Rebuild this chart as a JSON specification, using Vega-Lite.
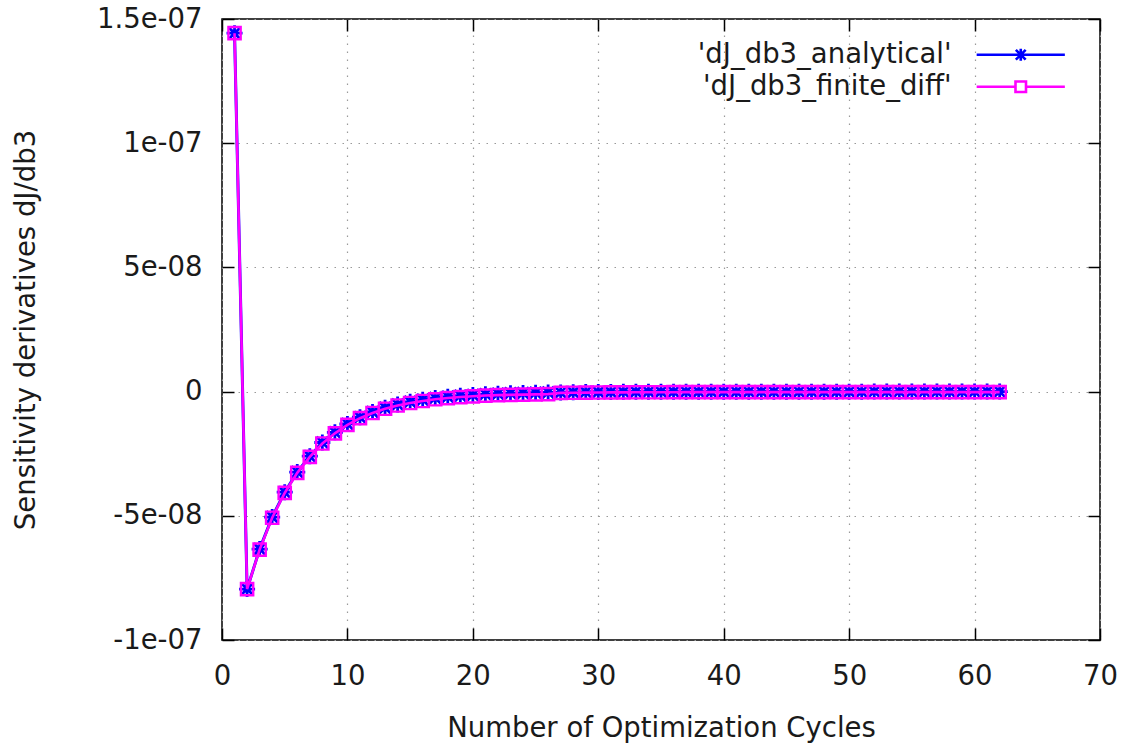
{
  "$schema": "https://vega.github.io/schema/vega-lite/v6.json",
  "width": 878,
  "height": 621,
  "autosize": {"type": "none"},
  "padding": {"left": 222, "top": 19, "right": 29, "bottom": 107},
  "background": "white",
  "config": {
    "view": {"stroke": "#000", "strokeWidth": 1.5},
    "font": "DejaVu Sans",
    "legend": {"padding": 0}
  },
  "datasets": {
    "d": [
      {"series": "'dJ_db3_analytical'", "x": 1, "y": 1.443e-07},
      {"series": "'dJ_db3_analytical'", "x": 2, "y": -7.95e-08},
      {"series": "'dJ_db3_analytical'", "x": 3, "y": -6.34e-08},
      {"series": "'dJ_db3_analytical'", "x": 4, "y": -5.05e-08},
      {"series": "'dJ_db3_analytical'", "x": 5, "y": -4.05e-08},
      {"series": "'dJ_db3_analytical'", "x": 6, "y": -3.24e-08},
      {"series": "'dJ_db3_analytical'", "x": 7, "y": -2.60e-08},
      {"series": "'dJ_db3_analytical'", "x": 8, "y": -2.05e-08},
      {"series": "'dJ_db3_analytical'", "x": 9, "y": -1.64e-08},
      {"series": "'dJ_db3_analytical'", "x": 10, "y": -1.30e-08},
      {"series": "'dJ_db3_analytical'", "x": 11, "y": -1.03e-08},
      {"series": "'dJ_db3_analytical'", "x": 12, "y": -8.2e-09},
      {"series": "'dJ_db3_analytical'", "x": 13, "y": -6.5e-09},
      {"series": "'dJ_db3_analytical'", "x": 14, "y": -5.2e-09},
      {"series": "'dJ_db3_analytical'", "x": 15, "y": -4.1e-09},
      {"series": "'dJ_db3_analytical'", "x": 16, "y": -3.3e-09},
      {"series": "'dJ_db3_analytical'", "x": 17, "y": -2.6e-09},
      {"series": "'dJ_db3_analytical'", "x": 18, "y": -2.1e-09},
      {"series": "'dJ_db3_analytical'", "x": 19, "y": -1.7e-09},
      {"series": "'dJ_db3_analytical'", "x": 20, "y": -1.35e-09},
      {"series": "'dJ_db3_analytical'", "x": 21, "y": -1.1e-09},
      {"series": "'dJ_db3_analytical'", "x": 22, "y": -9e-10},
      {"series": "'dJ_db3_analytical'", "x": 23, "y": -7e-10},
      {"series": "'dJ_db3_analytical'", "x": 24, "y": -6e-10},
      {"series": "'dJ_db3_analytical'", "x": 25, "y": -5e-10},
      {"series": "'dJ_db3_analytical'", "x": 26, "y": -4e-10},
      {"series": "'dJ_db3_analytical'", "x": 27, "y": -3.2e-10},
      {"series": "'dJ_db3_analytical'", "x": 28, "y": -2.6e-10},
      {"series": "'dJ_db3_analytical'", "x": 29, "y": -2.1e-10},
      {"series": "'dJ_db3_analytical'", "x": 30, "y": -1.7e-10},
      {"series": "'dJ_db3_analytical'", "x": 31, "y": -1.4e-10},
      {"series": "'dJ_db3_analytical'", "x": 32, "y": -1.1e-10},
      {"series": "'dJ_db3_analytical'", "x": 33, "y": -9e-11},
      {"series": "'dJ_db3_analytical'", "x": 34, "y": -7e-11},
      {"series": "'dJ_db3_analytical'", "x": 35, "y": -6e-11},
      {"series": "'dJ_db3_analytical'", "x": 36, "y": -5e-11},
      {"series": "'dJ_db3_analytical'", "x": 37, "y": -4e-11},
      {"series": "'dJ_db3_analytical'", "x": 38, "y": -3.5e-11},
      {"series": "'dJ_db3_analytical'", "x": 39, "y": -3e-11},
      {"series": "'dJ_db3_analytical'", "x": 40, "y": -2.6e-11},
      {"series": "'dJ_db3_analytical'", "x": 41, "y": -2.3e-11},
      {"series": "'dJ_db3_analytical'", "x": 42, "y": -2e-11},
      {"series": "'dJ_db3_analytical'", "x": 43, "y": -1.8e-11},
      {"series": "'dJ_db3_analytical'", "x": 44, "y": -1.6e-11},
      {"series": "'dJ_db3_analytical'", "x": 45, "y": -1.5e-11},
      {"series": "'dJ_db3_analytical'", "x": 46, "y": -1.4e-11},
      {"series": "'dJ_db3_analytical'", "x": 47, "y": -1.3e-11},
      {"series": "'dJ_db3_analytical'", "x": 48, "y": -1.2e-11},
      {"series": "'dJ_db3_analytical'", "x": 49, "y": -1.2e-11},
      {"series": "'dJ_db3_analytical'", "x": 50, "y": -1.1e-11},
      {"series": "'dJ_db3_analytical'", "x": 51, "y": -1.1e-11},
      {"series": "'dJ_db3_analytical'", "x": 52, "y": -1e-11},
      {"series": "'dJ_db3_analytical'", "x": 53, "y": -1e-11},
      {"series": "'dJ_db3_analytical'", "x": 54, "y": -1e-11},
      {"series": "'dJ_db3_analytical'", "x": 55, "y": -1e-11},
      {"series": "'dJ_db3_analytical'", "x": 56, "y": -1e-11},
      {"series": "'dJ_db3_analytical'", "x": 57, "y": -1e-11},
      {"series": "'dJ_db3_analytical'", "x": 58, "y": -1e-11},
      {"series": "'dJ_db3_analytical'", "x": 59, "y": -1e-11},
      {"series": "'dJ_db3_analytical'", "x": 60, "y": -1e-11},
      {"series": "'dJ_db3_analytical'", "x": 61, "y": -1e-11},
      {"series": "'dJ_db3_analytical'", "x": 62, "y": -1e-11},
      {"series": "'dJ_db3_finite_diff'", "x": 1, "y": 1.443e-07},
      {"series": "'dJ_db3_finite_diff'", "x": 2, "y": -7.95e-08},
      {"series": "'dJ_db3_finite_diff'", "x": 3, "y": -6.36e-08},
      {"series": "'dJ_db3_finite_diff'", "x": 4, "y": -5.08e-08},
      {"series": "'dJ_db3_finite_diff'", "x": 5, "y": -4.08e-08},
      {"series": "'dJ_db3_finite_diff'", "x": 6, "y": -3.27e-08},
      {"series": "'dJ_db3_finite_diff'", "x": 7, "y": -2.63e-08},
      {"series": "'dJ_db3_finite_diff'", "x": 8, "y": -2.09e-08},
      {"series": "'dJ_db3_finite_diff'", "x": 9, "y": -1.68e-08},
      {"series": "'dJ_db3_finite_diff'", "x": 10, "y": -1.34e-08},
      {"series": "'dJ_db3_finite_diff'", "x": 11, "y": -1.07e-08},
      {"series": "'dJ_db3_finite_diff'", "x": 12, "y": -8.6e-09},
      {"series": "'dJ_db3_finite_diff'", "x": 13, "y": -6.9e-09},
      {"series": "'dJ_db3_finite_diff'", "x": 14, "y": -5.6e-09},
      {"series": "'dJ_db3_finite_diff'", "x": 15, "y": -4.6e-09},
      {"series": "'dJ_db3_finite_diff'", "x": 16, "y": -3.8e-09},
      {"series": "'dJ_db3_finite_diff'", "x": 17, "y": -3.1e-09},
      {"series": "'dJ_db3_finite_diff'", "x": 18, "y": -2.6e-09},
      {"series": "'dJ_db3_finite_diff'", "x": 19, "y": -2.2e-09},
      {"series": "'dJ_db3_finite_diff'", "x": 20, "y": -1.9e-09},
      {"series": "'dJ_db3_finite_diff'", "x": 21, "y": -1.6e-09},
      {"series": "'dJ_db3_finite_diff'", "x": 22, "y": -1.4e-09},
      {"series": "'dJ_db3_finite_diff'", "x": 23, "y": -1.3e-09},
      {"series": "'dJ_db3_finite_diff'", "x": 24, "y": -1.2e-09},
      {"series": "'dJ_db3_finite_diff'", "x": 25, "y": -1.1e-09},
      {"series": "'dJ_db3_finite_diff'", "x": 26, "y": -1.0e-09},
      {"series": "'dJ_db3_finite_diff'", "x": 27, "y": -5e-10},
      {"series": "'dJ_db3_finite_diff'", "x": 28, "y": -4.5e-10},
      {"series": "'dJ_db3_finite_diff'", "x": 29, "y": -4e-10},
      {"series": "'dJ_db3_finite_diff'", "x": 30, "y": -3.6e-10},
      {"series": "'dJ_db3_finite_diff'", "x": 31, "y": -3.3e-10},
      {"series": "'dJ_db3_finite_diff'", "x": 32, "y": -3e-10},
      {"series": "'dJ_db3_finite_diff'", "x": 33, "y": -2.8e-10},
      {"series": "'dJ_db3_finite_diff'", "x": 34, "y": -2.6e-10},
      {"series": "'dJ_db3_finite_diff'", "x": 35, "y": -2.5e-10},
      {"series": "'dJ_db3_finite_diff'", "x": 36, "y": -2.4e-10},
      {"series": "'dJ_db3_finite_diff'", "x": 37, "y": -2.3e-10},
      {"series": "'dJ_db3_finite_diff'", "x": 38, "y": -2.3e-10},
      {"series": "'dJ_db3_finite_diff'", "x": 39, "y": -2.2e-10},
      {"series": "'dJ_db3_finite_diff'", "x": 40, "y": -2.2e-10},
      {"series": "'dJ_db3_finite_diff'", "x": 41, "y": -2.1e-10},
      {"series": "'dJ_db3_finite_diff'", "x": 42, "y": -2.1e-10},
      {"series": "'dJ_db3_finite_diff'", "x": 43, "y": -2.1e-10},
      {"series": "'dJ_db3_finite_diff'", "x": 44, "y": -2e-10},
      {"series": "'dJ_db3_finite_diff'", "x": 45, "y": -2e-10},
      {"series": "'dJ_db3_finite_diff'", "x": 46, "y": -2e-10},
      {"series": "'dJ_db3_finite_diff'", "x": 47, "y": -2e-10},
      {"series": "'dJ_db3_finite_diff'", "x": 48, "y": -2e-10},
      {"series": "'dJ_db3_finite_diff'", "x": 49, "y": -2e-10},
      {"series": "'dJ_db3_finite_diff'", "x": 50, "y": -2e-10},
      {"series": "'dJ_db3_finite_diff'", "x": 51, "y": -2e-10},
      {"series": "'dJ_db3_finite_diff'", "x": 52, "y": -2e-10},
      {"series": "'dJ_db3_finite_diff'", "x": 53, "y": -2e-10},
      {"series": "'dJ_db3_finite_diff'", "x": 54, "y": -2e-10},
      {"series": "'dJ_db3_finite_diff'", "x": 55, "y": -2e-10},
      {"series": "'dJ_db3_finite_diff'", "x": 56, "y": -2e-10},
      {"series": "'dJ_db3_finite_diff'", "x": 57, "y": -2e-10},
      {"series": "'dJ_db3_finite_diff'", "x": 58, "y": -2e-10},
      {"series": "'dJ_db3_finite_diff'", "x": 59, "y": -2e-10},
      {"series": "'dJ_db3_finite_diff'", "x": 60, "y": -2e-10},
      {"series": "'dJ_db3_finite_diff'", "x": 61, "y": -2e-10},
      {"series": "'dJ_db3_finite_diff'", "x": 62, "y": -2e-10}
    ]
  },
  "data": {"name": "d"},
  "layer": [
    {
      "transform": [{"filter": "datum.series === \"'dJ_db3_analytical'\""}],
      "mark": {"type": "line", "strokeWidth": 3, "clip": true},
      "encoding": {
        "x": {
          "field": "x", "type": "quantitative",
          "scale": {"domain": [0, 70], "nice": false, "zero": false},
          "axis": {
            "orient": "bottom",
            "values": [0, 10, 20, 30, 40, 50, 60, 70],
            "grid": true, "gridColor": "#9a9a9a", "gridDash": [1.5, 6.5], "gridWidth": 1.2,
            "domain": false,
            "tickSize": -12, "tickColor": "#000", "tickWidth": 1.5,
            "labelPadding": 34, "labelFontSize": 27.5, "labelColor": "#1a1a1a", "labelFont": "DejaVu Sans",
            "labelFlush": false,
            "title": "Number of Optimization Cycles",
            "titleFontSize": 27.5, "titleFontWeight": "normal", "titleColor": "#1a1a1a", "titleFont": "DejaVu Sans",
            "titlePadding": 25
          }
        },
        "y": {
          "field": "y", "type": "quantitative",
          "scale": {"domain": [-1e-07, 1.5e-07], "nice": false, "zero": false},
          "axis": {
            "orient": "left",
            "values": [-1e-07, -5e-08, 0, 5e-08, 1e-07, 1.5e-07],
            "labelExpr": "datum.value == 0 ? '0' : replace(replace(format(datum.value, '.2~e'), 'e-', 'e-0'), '−', '-')",
            "grid": true, "gridColor": "#9a9a9a", "gridDash": [1.5, 6.5], "gridWidth": 1.2,
            "domain": false,
            "tickSize": -12, "tickColor": "#000", "tickWidth": 1.5,
            "labelPadding": 32, "labelFontSize": 27.5, "labelColor": "#1a1a1a", "labelFont": "DejaVu Sans",
            "labelFlush": false,
            "title": "Sensitivity derivatives dJ/db3",
            "titleFontSize": 27.5, "titleFontWeight": "normal", "titleColor": "#1a1a1a", "titleFont": "DejaVu Sans",
            "titlePadding": 56
          }
        },
        "color": {
          "field": "series", "type": "nominal",
          "scale": {"domain": ["'dJ_db3_analytical'", "'dJ_db3_finite_diff'"], "range": ["#0000ff", "#ff00ff"]},
          "legend": {
            "orient": "none", "legendX": 785, "legendY": 22,
            "title": null,
            "symbolSize": 196,
            "labelAlign": "right", "labelOffset": -83, "labelLimit": 0,
            "labelFontSize": 27.5, "labelFont": "DejaVu Sans", "labelColor": "#1a1a1a",
            "rowPadding": 3,
            "encode": {
              "symbols": {
                "update": {
                  "shape": {"signal": "datum.value === \"'dJ_db3_analytical'\" ? 'M-6.3,0H6.3M-0.85,0H0.85M0,-0.85V0.85M-0.7,-0.7L0.7,0.7M-0.7,0.7L0.7,-0.7' : 'M-6.3,0H-0.75M0.75,0H6.3M-0.75,-0.75H0.75V0.75H-0.75Z'"},
                  "stroke": {"scale": "color", "field": "value"},
                  "fill": {"value": "transparent"},
                  "strokeWidth": {"value": 2.6},
                  "opacity": {"value": 1}
                }
              }
            }
          }
        }
      }
    },
    {
      "transform": [{"filter": "datum.series === \"'dJ_db3_analytical'\""}],
      "mark": {"type": "point", "shape": "M-1,0H1M0,-1V1M-0.72,-0.72L0.72,0.72M-0.72,0.72L0.72,-0.72", "filled": false, "stroke": "#0000ff", "strokeWidth": 2.8, "size": 256, "opacity": 1},
      "encoding": {
        "x": {
          "field": "x", "type": "quantitative",
          "axis": {"orient": "top", "values": [0, 10, 20, 30, 40, 50, 60, 70], "labels": false, "grid": false, "domain": false, "tickSize": -12, "tickColor": "#000", "tickWidth": 1.5, "title": null}
        },
        "y": {
          "field": "y", "type": "quantitative",
          "axis": {"orient": "right", "values": [-1e-07, -5e-08, 0, 5e-08, 1e-07, 1.5e-07], "labels": false, "grid": false, "domain": false, "tickSize": -12, "tickColor": "#000", "tickWidth": 1.5, "title": null}
        }
      }
    },
    {
      "transform": [{"filter": "datum.series === \"'dJ_db3_finite_diff'\""}],
      "mark": {"type": "line", "stroke": "#ff00ff", "strokeWidth": 2.6},
      "encoding": {
        "x": {"field": "x", "type": "quantitative", "axis": null},
        "y": {"field": "y", "type": "quantitative", "axis": null}
      }
    },
    {
      "transform": [{"filter": "datum.series === \"'dJ_db3_finite_diff'\""}],
      "mark": {"type": "point", "shape": "square", "filled": false, "stroke": "#ff00ff", "strokeWidth": 2.4, "size": 150, "opacity": 1},
      "encoding": {
        "x": {"field": "x", "type": "quantitative", "axis": null},
        "y": {"field": "y", "type": "quantitative", "axis": null}
      }
    }
  ]
}
